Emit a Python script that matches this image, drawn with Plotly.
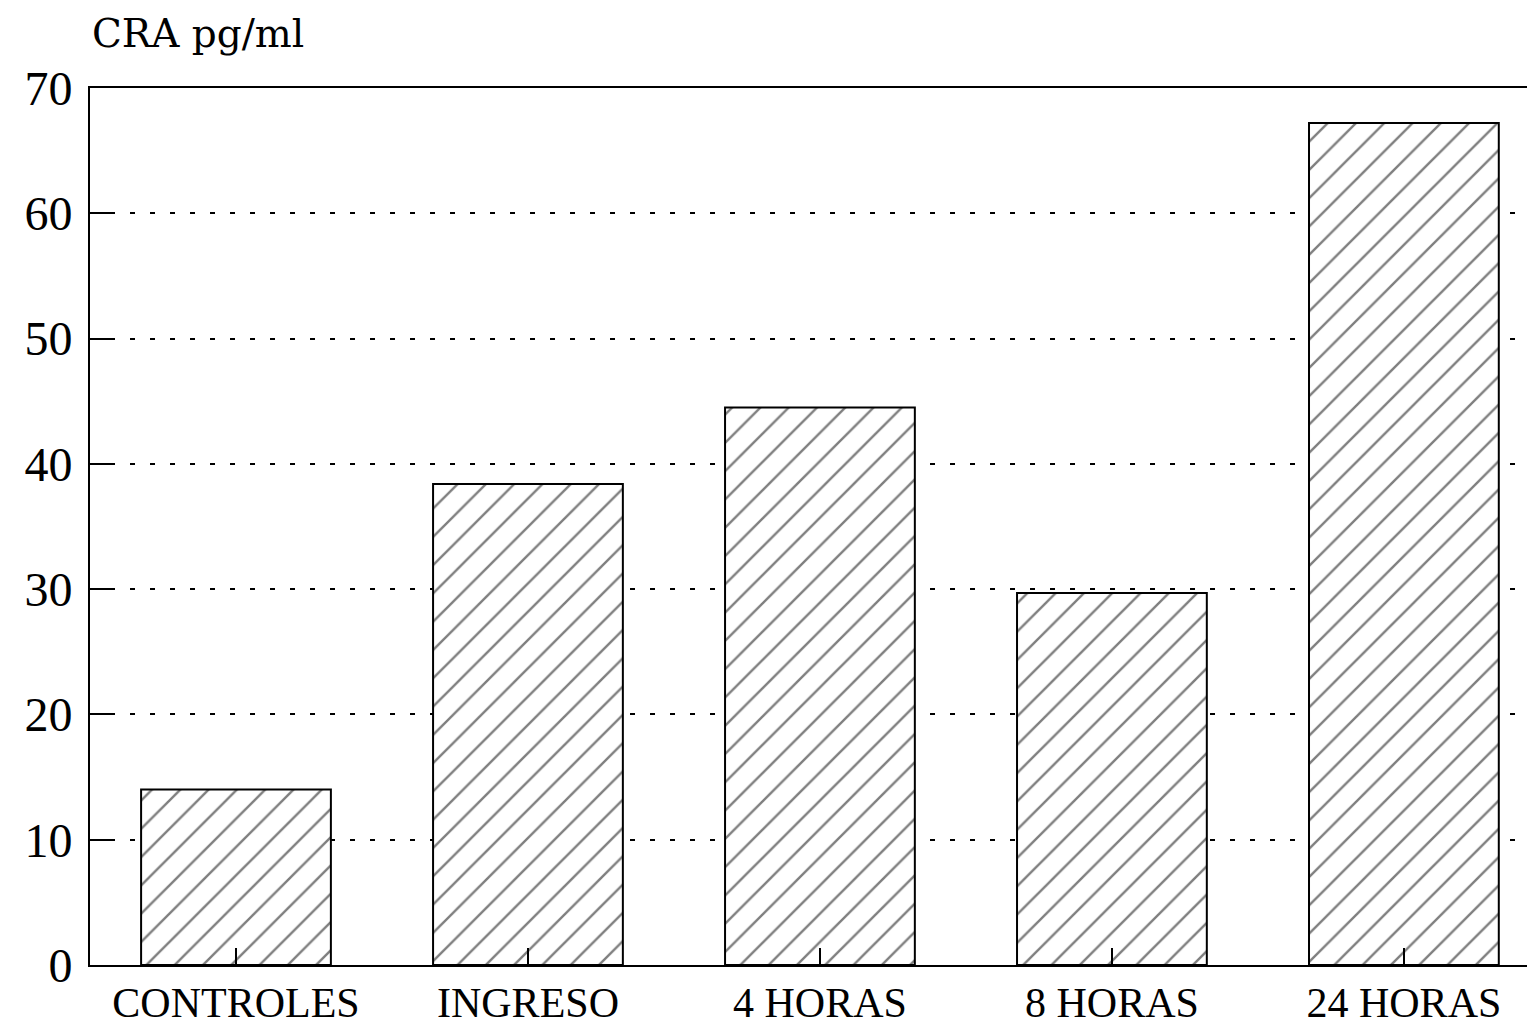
import plotly.graph_objects as go

categories = ["CONTROLES", "INGRESO", "4 HORAS", "8 HORAS", "24 HORAS"]
values = [14.0, 38.4, 44.5, 29.7, 67.2]
y_ticks = [0, 10, 20, 30, 40, 50, 60, 70]
y_title = "CRA pg/ml"

SERIF = "Liberation Serif, Times New Roman, Times, serif"

fig = go.Figure()
fig.add_trace(go.Bar(
    x=categories,
    y=values,
    width=0.65,
    marker=dict(
        color="white",
        line=dict(color="black", width=2),
        pattern=dict(shape="/", size=20, solidity=0.12, fgcolor="black", bgcolor="white"),
    ),
    showlegend=False,
))

# page body has an 8px default margin, so the figure is sized/margined to compensate
fig.update_layout(
    width=1527,
    height=1021,
    margin=dict(l=82, r=0, t=80, b=64),
    paper_bgcolor="white",
    plot_bgcolor="white",
    font=dict(family=SERIF, color="black", size=42),
    xaxis=dict(
        type="category",
        range=[-0.5, 4.449],
        automargin=False,
        showline=True,
        linecolor="black",
        linewidth=2,
        mirror=True,
        ticks="inside",
        ticklen=17,
        tickwidth=1.5,
        tickcolor="black",
        showgrid=False,
        ticklabelstandoff=0,
        tickfont=dict(family=SERIF, size=42, color="black"),
    ),
    yaxis=dict(
        range=[0, 70],
        tickvals=y_ticks,
        automargin=False,
        showline=True,
        linecolor="black",
        linewidth=2,
        ticks="inside",
        ticklen=24,
        tickwidth=2,
        tickcolor="black",
        showgrid=True,
        gridcolor="black",
        gridwidth=1.5,
        griddash="5px,15px",
        zeroline=False,
        ticklabelstandoff=6,
        tickfont=dict(family=SERIF, size=48, color="black"),
    ),
    annotations=[dict(
        text=y_title, xref="paper", yref="paper", x=0, y=1,
        xanchor="left", yanchor="bottom", yshift=30, xshift=0,
        showarrow=False,
        font=dict(family="DejaVu Serif", size=39, color="black"),
    )],
)

fig.write_html("out.html")
